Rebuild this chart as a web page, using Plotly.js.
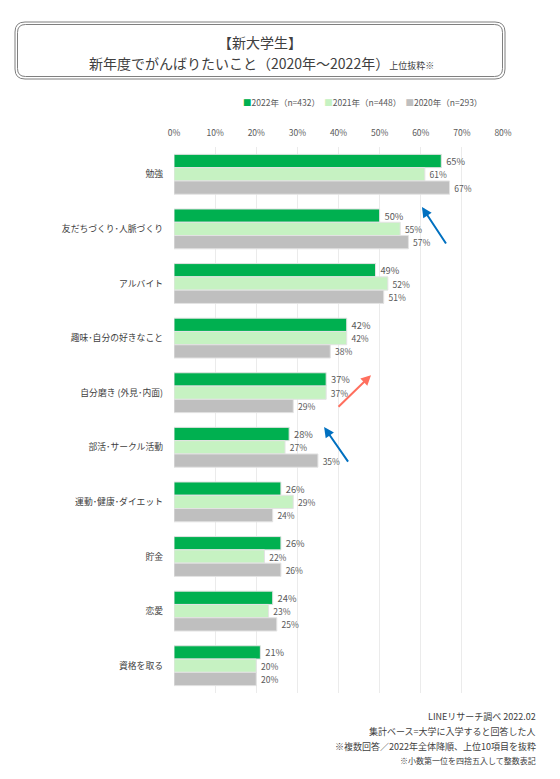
<!DOCTYPE html>
<html>
<head>
<meta charset="utf-8">
<script src="https://cdn.plot.ly/plotly-3.0.1.min.js"></script>
<style>html,body{margin:0;padding:0;background:#fff;}#chart{width:560px;height:779px;}</style>
</head>
<body>
<div id="chart"></div>
<script>
const categories = ["勉強","友だちづくり･人脈づくり","アルバイト","趣味･自分の好きなこと","自分磨き (外見･内面)","部活･サークル活動","運動･健康･ダイエット","貯金","恋愛","資格を取る"];
const seriesNames = ["2022年（n=432）","2021年（n=448）","2020年（n=293）"];
const values2022 = [65,50,49,42,37,28,26,26,24,21];
const values2021 = [61,55,52,42,37,27,29,22,23,20];
const values2020 = [67,57,51,38,29,35,24,26,25,20];
const tickValues = [0,10,20,30,40,50,60,70,80];
const tickLabels = ["0%","10%","20%","30%","40%","50%","60%","70%","80%"];

const FONT = '"Noto Sans CJK JP", "Noto Sans", sans-serif';
const colors = ["#00B050","#C6F2C2","#BFBFBF"];
const allValues = [values2022, values2021, values2020];
const labelSizes = [10.5, 8.5, 8.5];

const traces = allValues.map((vals, i) => ({
  type: 'bar',
  orientation: 'h',
  name: seriesNames[i],
  y: categories,
  x: vals,
  marker: {color: colors[i], line: {color: '#E3E3E3', width: 1}},
  text: vals.map(v => '\u2009' + v + '%'),
  textposition: 'outside',
  textfont: {family: FONT, size: labelSizes[i], color: '#595959'},
  cliponaxis: false,
  hoverinfo: 'x+y'
}));

// plot area: x 174..503, y 147..693
const L = 174, R = 503, T = 147, B = 693;
const PW = R - L, PH = B - T;
const px = x => (x - L) / PW;
const py = y => (B - y) / PH;

function roundRect(x0, y0, x1, y1, r) {
  const rx = r / PW, ry = r / PH;
  const a = px(x0), b = px(x1), top = py(y0), bot = py(y1);
  return `M ${a + rx} ${top} L ${b - rx} ${top} Q ${b} ${top} ${b} ${top - ry} ` +
         `L ${b} ${bot + ry} Q ${b} ${bot} ${b - rx} ${bot} ` +
         `L ${a + rx} ${bot} Q ${a} ${bot} ${a} ${bot + ry} ` +
         `L ${a} ${top - ry} Q ${a} ${top} ${a + rx} ${top} Z`;
}

const shapes = [
  {type: 'path', xref: 'paper', yref: 'paper', path: roundRect(15, 22, 505, 79, 10), line: {color: '#7F7F7F', width: 1}},
  {type: 'path', xref: 'paper', yref: 'paper', path: roundRect(17.5, 24.5, 502.5, 76.5, 8), line: {color: '#7F7F7F', width: 1}}
];

const legendHtml = seriesNames.map((n, i) =>
  `<span style="color:${colors[i]}">■</span>${n}`).join('　');

const notes = ["LINEリサーチ調べ 2022.02","集計ベース=大学に入学すると回答した人","※複数回答／2022年全体降順、上位10項目を抜粋","※小数第一位を四捨五入して整数表記"];
const noteY = [716, 731, 746, 760];
const noteSize = [9, 9, 9, 8];

const annotations = [
  {xref: 'paper', yref: 'paper', x: px(260), y: py(42), text: '【新大学生】', showarrow: false,
   font: {family: FONT, size: 14, color: '#404040'}, xanchor: 'center', yanchor: 'middle'},
  {xref: 'paper', yref: 'paper', x: px(261), y: py(63),
   text: '新年度でがんばりたいこと（2020年～2022年）<span style="font-size:9px">上位抜粋※</span>', showarrow: false,
   font: {family: FONT, size: 14, color: '#404040'}, xanchor: 'center', yanchor: 'middle'},
  {xref: 'paper', yref: 'paper', x: px(484), y: py(102), text: legendHtml, showarrow: false,
   font: {family: FONT, size: 8.5, color: '#595959'}, xanchor: 'right', yanchor: 'middle'}
];
notes.forEach((t, i) => annotations.push({
  xref: 'paper', yref: 'paper', x: px(538), y: py(noteY[i]), text: t, showarrow: false,
  font: {family: FONT, size: noteSize[i], color: '#404040'}, xanchor: 'right', yanchor: 'middle'
}));

// arrows (head in data coords, tail offset in pixels)
const arrows = [
  {x: 60.3, y: 0.60, ax: 25, ay: 38, color: '#0070C0'},
  {x: 36.5, y: 4.63, ax: 25, ay: 36, color: '#0070C0'},
  {x: 47.9, y: 3.68, ax: -34, ay: 33, color: '#FF6F5E'}
];
arrows.forEach(a => annotations.push({
  xref: 'x', yref: 'y', x: a.x, y: a.y, ax: a.ax, ay: a.ay, text: '', showarrow: true,
  arrowhead: 2, arrowsize: 1, arrowwidth: 2, arrowcolor: a.color, standoff: 0, startstandoff: 0
}));

const layout = {
  width: 560, height: 779,
  margin: {l: L, r: 560 - R, t: T, b: 779 - B, pad: 0},
  paper_bgcolor: '#fff', plot_bgcolor: '#fff',
  barmode: 'group', bargap: 0.27, bargroupgap: 0,
  showlegend: false,
  font: {family: FONT, color: '#404040'},
  xaxis: {
    side: 'top', range: [0, 80], tickvals: tickValues, ticktext: tickLabels,
    showgrid: true, gridcolor: '#EBEBEB', gridwidth: 1, zeroline: false,
    showline: false, ticks: '', ticklabelstandoff: 8,
    tickfont: {family: FONT, size: 8.5, color: '#595959'}, fixedrange: true
  },
  yaxis: {
    type: 'category', autorange: 'reversed', showgrid: false, zeroline: false, showline: false,
    ticks: '', ticklabelstandoff: 10,
    tickfont: {family: FONT, size: 8.8, color: '#404040'}, fixedrange: true
  },
  shapes: shapes,
  annotations: annotations
};

Plotly.newPlot('chart', traces, layout, {displayModeBar: false, staticPlot: true});
</script>
</body>
</html>
